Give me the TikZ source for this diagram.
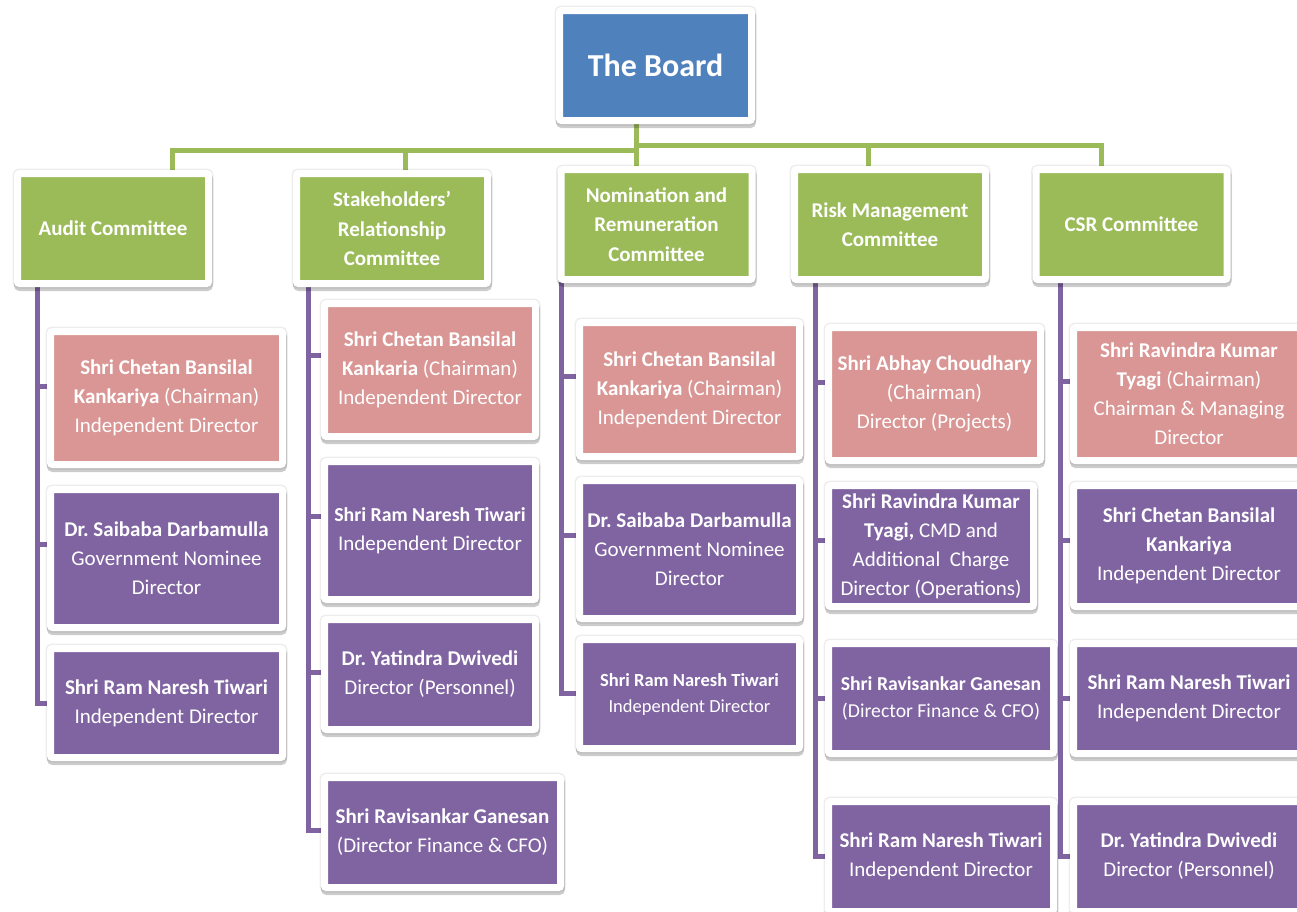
\documentclass[tikz,border=0pt]{standalone}
\usepackage{fontspec}
\setmainfont{Carlito}
\frenchspacing
\usetikzlibrary{backgrounds}
\definecolor{headblue}{HTML}{4F81BD}
\definecolor{cmtegreen}{HTML}{9BBB59}
\definecolor{chairpink}{HTML}{D99694}
\definecolor{mempurple}{HTML}{8064A2}
\tikzset{
  box/.style={draw=white, line width=7pt, rounded corners=2pt, text=white,
    align=center, inner sep=0pt, font=\fontsize{21}{29}\selectfont,
    preaction={draw=black, opacity=.07, line width=10pt},
    preaction={draw=black, opacity=.2, line width=8pt,
      transform canvas={xshift=.5pt, yshift=-3.5pt}}},
  head/.style={box, fill=headblue, font=\bfseries\fontsize{32}{38}\selectfont},
  cmte/.style={box, fill=cmtegreen, font=\bfseries\fontsize{21}{29.5}\selectfont,
    minimum width=191pt, minimum height=110pt},
  chair/.style={box, fill=chairpink},
  mem/.style={box, fill=mempurple},
  tie/.style={draw=cmtegreen, line width=5pt},
  spine/.style={draw=mempurple, line width=5pt},
}
\begin{document}
\begin{tikzpicture}[x=1pt,y=-1pt]
\useasboundingbox (0,0) rectangle (1297,911);
% board and committees
\node[head, minimum width=192pt, minimum height=110pt] (board) at (655.5,65.5) {The Board};
\node[cmte] (aud) at (113,228.5) {Audit Committee};
\node[cmte] (stk) at (392,228.5) {Stakeholders’\\Relationship\\Committee};
\node[cmte] (nom) at (656.5,224.5) {Nomination and\\Remuneration\\Committee};
\node[cmte] (rsk) at (890,224.5) {Risk Management\\Committee};
\node[cmte] (csr) at (1131.5,224.5) {CSR Committee};
% audit
\node[chair, minimum width=232pt, minimum height=133pt] (a1) at (166.5,398)
  {\textbf{Shri Chetan Bansilal}\\\textbf{Kankariya} (Chairman)\\Independent Director};
\node[mem, minimum width=232pt, minimum height=138pt] (a2) at (166.5,558.5)
  {\textbf{Dr. Saibaba Darbamulla}\\Government Nominee\\Director};
\node[mem, minimum width=232pt, minimum height=109pt] (a3) at (166.5,703)
  {\textbf{Shri Ram Naresh Tiwari}\\Independent Director};
% stakeholders
\node[chair, minimum width=211pt, minimum height=133pt] (s1) at (430,370)
  {\textbf{Shri Chetan Bansilal}\\\textbf{Kankaria} (Chairman)\\Independent Director};
\node[mem, minimum width=211pt, minimum height=138pt] (s2) at (430,530.5)
  {{\fontsize{19.8}{29}\selectfont\textbf{Shri Ram Naresh Tiwari}}\\Independent Director};
\node[mem, minimum width=211pt, minimum height=110pt] (s3) at (430,674.5)
  {\textbf{Dr. Yatindra Dwivedi}\\Director (Personnel)};
\node[mem, minimum width=236pt, minimum height=110pt] (s4) at (442.5,832.5)
  {\textbf{Shri Ravisankar Ganesan}\\(Director Finance \& CFO)};
% nomination
\node[chair, minimum width=220pt, minimum height=134pt] (n1) at (689.5,389.5)
  {\textbf{Shri Chetan Bansilal}\\\textbf{Kankariya} (Chairman)\\Independent Director};
\node[mem, minimum width=220pt, minimum height=138pt] (n2) at (689.5,549.5)
  {\textbf{Dr. Saibaba Darbamulla}\\Government Nominee\\Director};
\node[mem, minimum width=220pt, minimum height=109pt, font=\fontsize{18.5}{26}\selectfont] (n3) at (689.5,694)
  {\textbf{Shri Ram Naresh Tiwari}\\Independent Director};
% risk
\node[chair, minimum width=212pt, minimum height=133pt] (r1) at (934.5,394)
  {\textbf{Shri Abhay Choudhary}\\(Chairman)\\Director (Projects)};
\node[mem, minimum width=205pt, minimum height=121pt] (r2) at (931,546)
  {\textbf{Shri Ravindra Kumar}\\\textbf{Tyagi,} CMD and\\Additional\ \ Charge\\Director (Operations)};
\node[mem, minimum width=225pt, minimum height=110pt, font=\fontsize{19.7}{27}\selectfont] (r3) at (941,698.5)
  {\textbf{Shri Ravisankar Ganesan}\\(Director Finance \& CFO)};
\node[mem, minimum width=225pt, minimum height=110pt] (r4) at (941,856.5)
  {\textbf{Shri Ram Naresh Tiwari}\\Independent Director};
% csr
\node[chair, minimum width=231pt, minimum height=133pt] (c1) at (1189,394)
  {\textbf{Shri Ravindra Kumar}\\\textbf{Tyagi} (Chairman)\\Chairman \& Managing\\Director};
\node[mem, minimum width=231pt, minimum height=121pt] (c2) at (1189,546)
  {\textbf{Shri Chetan Bansilal}\\\textbf{Kankariya}\\Independent Director};
\node[mem, minimum width=231pt, minimum height=110pt] (c3) at (1189,698.5)
  {\textbf{Shri Ram Naresh Tiwari}\\Independent Director};
\node[mem, minimum width=231pt, minimum height=110pt] (c4) at (1189,856.5)
  {\textbf{Dr. Yatindra Dwivedi}\\Director (Personnel)};
% connectors go under the white frames
\begin{scope}[on background layer]
\fill[white] (0,0) rectangle (1297,911);
\coordinate (hub) at (636,117);
\foreach \c/\dx/\by in {aud/59/33, stk/13/33, nom/-20.5/33, rsk/-22/28, csr/-30.5/28}
  \draw[tie] (hub) -- ++(0,\by) -| ([xshift=\dx pt]\c.north);
\coordinate (ap) at (37,280);
\coordinate (sp) at (308,280);
\coordinate (np) at (561,276);
\coordinate (rp) at (815,276);
\coordinate (cp) at (1060,276);
\foreach \m/\d in {a1/12, a2/14, a3/0}
  \draw[spine] (ap) |- ([yshift=\d pt]\m.west);
\foreach \m/\d in {s1/15, s2/14, s3/2, s4/2}
  \draw[spine] (sp) |- ([yshift=\d pt]\m.west);
\foreach \m/\d in {n1/13, n2/14, n3/1}
  \draw[spine] (np) |- ([yshift=\d pt]\m.west);
\foreach \m/\d in {r1/12, r2/6, r3/0, r4/0}
  \draw[spine] (rp) |- ([yshift=\d pt]\m.west);
\foreach \m/\d in {c1/13, c2/6, c3/0, c4/0}
  \draw[spine] (cp) |- ([yshift=\d pt]\m.west);
\end{scope}
\end{tikzpicture}
\end{document}
